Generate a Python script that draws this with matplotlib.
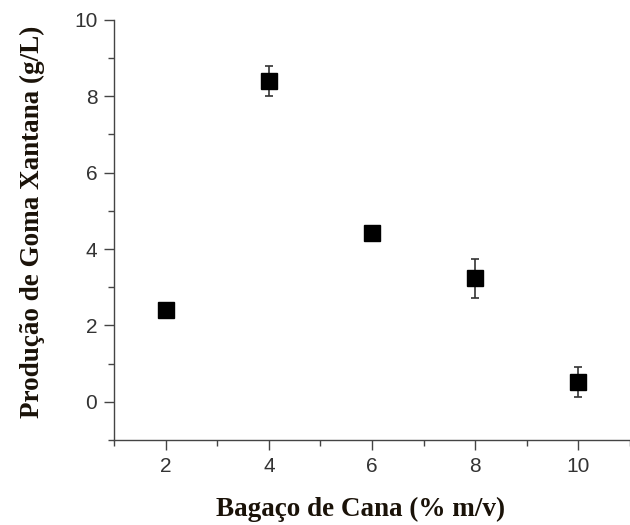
import matplotlib
matplotlib.use("Agg")
import matplotlib.pyplot as plt
from matplotlib.ticker import MultipleLocator

# Xanthan gum production vs. sugarcane bagasse concentration
bagaco = [2, 4, 6, 8, 10]
producao = [2.40, 8.40, 4.42, 3.23, 0.52]
desvio = [0.10, 0.40, 0.10, 0.50, 0.40]

fig = plt.figure(figsize=(6.30, 5.25), dpi=100)
ax = fig.add_axes([0.181, 0.162, 0.819, 0.8])

ax.errorbar(bagaco, producao, yerr=desvio, fmt="s", color="black",
            markersize=11, ecolor="#333333", elinewidth=1.2,
            capsize=3, capthick=1.2, linestyle="none")

ax.set_xlim(1, 11)
ax.set_ylim(-1, 10)
ax.xaxis.set_major_locator(MultipleLocator(2))
ax.xaxis.set_minor_locator(MultipleLocator(1))
ax.yaxis.set_major_locator(MultipleLocator(2))
ax.yaxis.set_minor_locator(MultipleLocator(1))

for side in ["top", "right"]:
    ax.spines[side].set_visible(False)
for side in ["left", "bottom"]:
    ax.spines[side].set_color("#444444")
    ax.spines[side].set_linewidth(1.0)

ax.tick_params(axis="both", which="major", direction="out", length=7,
               width=1.0, color="#444444", labelsize=15,
               labelcolor="#333333", pad=5)
ax.tick_params(axis="both", which="minor", direction="out", length=4,
               width=1.0, color="#444444")
for lab in ax.get_xticklabels() + ax.get_yticklabels():
    lab.set_family("Liberation Sans")

font_lbl = dict(family="Liberation Serif", weight="bold", size=19.5,
                color="#1a1208")
ax.set_xlabel("Bagaço de Cana (% m/v)", **font_lbl)
ax.xaxis.set_label_coords(0.477, -0.136)
ax.set_ylabel("Produção de Goma Xantana (g/L)", labelpad=21, **font_lbl)
ax.yaxis.label.set_y(0.519)

fig.savefig("out.png", dpi=100)
